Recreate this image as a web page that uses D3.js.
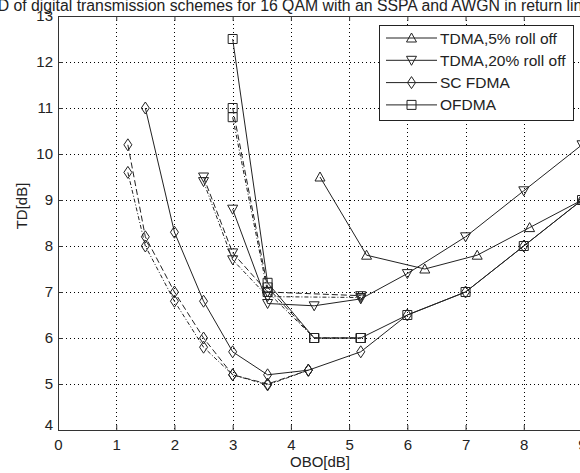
<!DOCTYPE html>
<html>
<head>
<meta charset="utf-8">
<script src="https://cdn.jsdelivr.net/npm/d3@7"></script>
<style>
  body { margin: 0; background: #fff; }
  svg { display: block; font-family: "Liberation Sans", Arial, sans-serif; }
</style>
</head>
<body>
<script>
var W = 580, H = 473;
var margin = {top: 16, left: 58, right: -2, bottom: 43};

// data
var titleText = 'TD of digital transmission schemes for 16 QAM with an SSPA and AWGN in return link';
var xTicks = [0, 1, 2, 3, 4, 5, 6, 7, 8, 9];
var yTicks = [4, 5, 6, 7, 8, 9, 10, 11, 12, 13];
var legendNames = ['TDMA,5% roll off', 'TDMA,20% roll off', 'SC FDMA', 'OFDMA'];

var tdma5X = [4.5, 5.3, 6.3, 7.2, 8.1, 9.0];
var tdma5Y = [9.5, 7.8, 7.5, 7.8, 8.4, 9.0];

var tdma20X = [3, 3.6, 4.4, 5.2, 6, 7, 8, 9];
var tdma20Y = [8.8, 6.75, 6.7, 6.85, 7.4, 8.2, 9.2, 10.2];
var tdma20dX = [2.5, 3, 3.6, 5.2];
var tdma20aY = [9.5, 7.85, 7.0, 6.92];
var tdma20bY = [9.4, 7.7, 6.9, 6.88];

var scX = [1.5, 2, 2.5, 3, 3.6, 4.3, 5.2, 6, 7, 8, 9];
var scY = [11.0, 8.3, 6.8, 5.7, 5.2, 5.3, 5.7, 6.5, 7.0, 8.0, 9.0];
var scdX = [1.2, 1.5, 2, 2.5, 3, 3.6, 4.3];
var scaY = [10.2, 8.2, 7.0, 6.0, 5.2, 5.0, 5.3];
var scbY = [9.6, 8.0, 6.8, 5.8, 5.2, 4.98, 5.3];

var ofX = [3, 3.6, 4.4, 5.2, 6, 7, 8, 9];
var ofY = [12.5, 7.2, 6.0, 6.0, 6.5, 7.0, 8.0, 9.0];
var ofdX = [3, 3.6, 4.4, 5.2];
var ofaY = [11.0, 7.1, 6.0, 6.0];
var ofbY = [10.8, 7.0, 6.0, 6.0];

var series = [
  {xs: tdma5X, ys: tdma5Y, mark: 'up', dash: null},
  {xs: tdma20X, ys: tdma20Y, mark: 'down', dash: null},
  {xs: tdma20dX, ys: tdma20aY, mark: 'down', dash: '6,3'},
  {xs: tdma20dX, ys: tdma20bY, mark: 'down', dash: '4,2,1,2'},
  {xs: scX, ys: scY, mark: 'diamond', dash: null},
  {xs: scdX, ys: scaY, mark: 'diamond', dash: '6,3'},
  {xs: scdX, ys: scbY, mark: 'diamond', dash: '4,2,1,2'},
  {xs: ofX, ys: ofY, mark: 'square', dash: null},
  {xs: ofdX, ys: ofaY, mark: 'square', dash: '6,3'},
  {xs: ofdX, ys: ofbY, mark: 'square', dash: '4,2,1,2'}
];
var legendMarks = ['up', 'down', 'diamond', 'square'];

var markPath = {
  up: 'M0,-5L5,4L-5,4Z',
  down: 'M0,5L5,-4L-5,-4Z',
  diamond: 'M0,-6L4,0L0,6L-4,0Z',
  square: 'M-4.5,-4.5H4.5V4.5H-4.5Z'
};

var svg = d3.select('body').append('svg')
    .attr('width', W)
    .attr('height', H);

var x = d3.scaleLinear().domain([0, 9]).range([margin.left, W - margin.right]);
var y = d3.scaleLinear().domain([4, 13]).range([H - margin.bottom, margin.top]);

svg.append('text')
    .attr('x', -12)
    .attr('y', 11)
    .style('font-size', '15.8px')
    .attr('fill', '#222')
    .text(titleText);

// grid
var grid = svg.append('g')
    .style('stroke', '#000')
    .style('stroke-width', 1)
    .style('stroke-dasharray', '1,3');
grid.selectAll('.gx')
    .data(xTicks.slice(1, -1))
    .enter().append('line')
    .attr('x1', function(d) { return Math.round(x(d)) + 0.5; })
    .attr('x2', function(d) { return Math.round(x(d)) + 0.5; })
    .attr('y1', y(13)).attr('y2', y(4));
grid.selectAll('.gy')
    .data(yTicks.slice(1, -1))
    .enter().append('line')
    .attr('y1', function(d) { return Math.round(y(d)) + 0.5; })
    .attr('y2', function(d) { return Math.round(y(d)) + 0.5; })
    .attr('x1', x(0)).attr('x2', x(9));

// axes with inward ticks
var fmt = d3.format('d');
var xAxis = svg.append('g')
    .attr('transform', 'translate(0,' + y(4) + ')')
    .call(d3.axisBottom(x).tickValues(xTicks).tickSize(-5).tickSizeOuter(0).tickPadding(9).tickFormat(fmt));
var xAxisTop = svg.append('g')
    .attr('transform', 'translate(0,' + y(13) + ')')
    .call(d3.axisTop(x).tickValues(xTicks).tickSize(-5).tickSizeOuter(0).tickFormat(''));
var yAxis = svg.append('g')
    .attr('transform', 'translate(' + x(0) + ',0)')
    .call(d3.axisLeft(y).tickValues(yTicks).tickSize(-5).tickSizeOuter(0).tickPadding(5).tickFormat(fmt));
[xAxis, xAxisTop, yAxis].forEach(function(a) {
  a.selectAll('text').style('font-size', '15px').style('font-family', '"Liberation Sans", Arial, sans-serif').attr('fill', '#222');
  a.selectAll('line, path').attr('stroke', '#333');
});
// the "4" sits a little above the "0"
yAxis.selectAll('.tick text').filter(function(d) { return d === 4; }).attr('dy', '-0.05em');

svg.append('text')
    .attr('x', (x(0) + x(9)) / 2)
    .attr('y', 467)
    .attr('text-anchor', 'middle')
    .style('font-size', '15px')
    .attr('fill', '#222')
    .text('OBO[dB]');

svg.append('text')
    .attr('transform', 'translate(27,206) rotate(-90)')
    .attr('text-anchor', 'middle')
    .style('font-size', '15px')
    .attr('fill', '#222')
    .text('TD[dB]');

// series
var plot = svg.append('g');
var line = d3.line()
    .x(function(d) { return x(d[0]); })
    .y(function(d) { return y(d[1]); });

series.forEach(function(s) {
  var pts = s.xs.map(function(v, i) { return [v, s.ys[i]]; });
  plot.append('path')
      .datum(pts)
      .attr('d', line)
      .attr('fill', 'none')
      .attr('stroke', '#222')
      .attr('stroke-width', 1)
      .attr('stroke-dasharray', s.dash);
  plot.selectAll(null)
      .data(pts)
      .enter().append('path')
      .attr('transform', function(d) { return 'translate(' + x(d[0]) + ',' + y(d[1]) + ')'; })
      .attr('d', markPath[s.mark])
      .attr('fill', 'none')
      .attr('stroke', '#222')
      .attr('stroke-width', 1);
});

// legend
var lg = svg.append('g');
lg.append('rect')
    .attr('x', 379.5).attr('y', 25.5)
    .attr('width', 194).attr('height', 95)
    .attr('fill', '#fff')
    .attr('stroke', '#222');
legendNames.forEach(function(name, i) {
  var ly = 38 + i * 22.3;
  lg.append('line')
      .attr('x1', 386).attr('x2', 437)
      .attr('y1', ly).attr('y2', ly)
      .attr('stroke', '#222');
  lg.append('path')
      .attr('transform', 'translate(411.5,' + ly + ')')
      .attr('d', markPath[legendMarks[i]])
      .attr('fill', 'none')
      .attr('stroke', '#222');
  lg.append('text')
      .attr('x', 440).attr('y', ly + 5.5)
      .style('font-size', '15.5px')
      .attr('fill', '#222')
      .text(name);
});
</script>
</body>
</html>
